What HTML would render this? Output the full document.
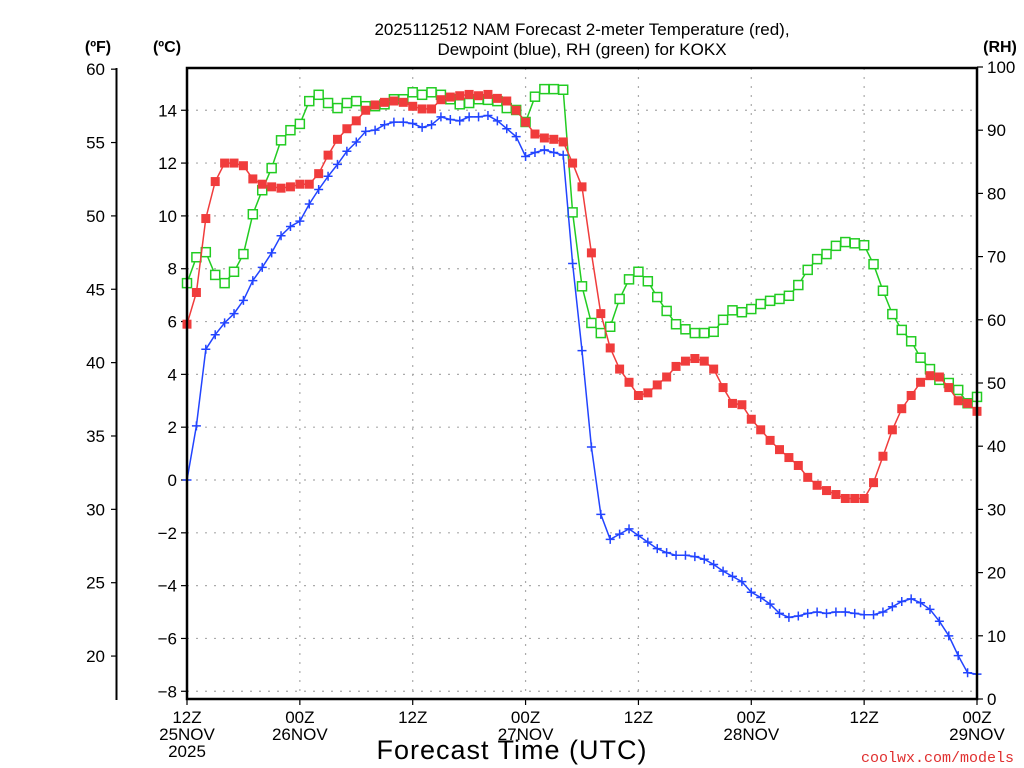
<!DOCTYPE html>
<html><head><meta charset="utf-8"><style>
html,body{margin:0;padding:0;background:#fff;}
svg{display:block;font-family:"Liberation Sans",sans-serif;}
</style></head><body>
<svg id="chart" width="1024" height="768" viewBox="0 0 1024 768" xmlns="http://www.w3.org/2000/svg">
<text x="582" y="35" text-anchor="middle" font-size="17" fill="#000">2025112512 NAM Forecast 2-meter Temperature (red),</text>
<text x="582" y="55" text-anchor="middle" font-size="17" fill="#000">Dewpoint (blue), RH (green) for KOKX</text>
<text x="98" y="52" text-anchor="middle" font-size="16" font-weight="bold">(ºF)</text>
<text x="167" y="52" text-anchor="middle" font-size="16" font-weight="bold">(ºC)</text>
<text x="1000" y="52" text-anchor="middle" font-size="16" font-weight="bold">(RH)</text>
<g id="grid"></g>
<g id="axes"></g>
<g id="series"></g>
<rect x="187" y="68" width="790" height="631" fill="none" stroke="#000" stroke-width="2.5"/>
<line x1="116.5" y1="68" x2="116.5" y2="700" stroke="#000" stroke-width="2"/>
<text x="512" y="759" text-anchor="middle" font-size="27" fill="#000" letter-spacing="1">Forecast Time (UTC)</text>
<text x="1014" y="762" text-anchor="end" font-size="15" fill="#e03030" font-family="Liberation Mono, monospace">coolwx.com/models</text>
</svg>
<script>
const tempC = [5.9,7.1,9.9,11.3,12.0,12.0,11.9,11.4,11.2,11.1,11.05,11.1,11.2,11.2,11.6,12.3,12.9,13.3,13.6,14.0,14.2,14.3,14.35,14.3,14.15,14.05,14.05,14.4,14.5,14.55,14.6,14.55,14.6,14.45,14.35,14.0,13.55,13.1,12.95,12.9,12.8,12.0,11.1,8.6,6.3,5.0,4.2,3.7,3.2,3.3,3.6,3.9,4.3,4.5,4.6,4.5,4.2,3.5,2.9,2.85,2.3,1.9,1.5,1.15,0.85,0.55,0.1,-0.2,-0.4,-0.55,-0.7,-0.7,-0.7,-0.1,0.9,1.9,2.7,3.2,3.7,3.95,3.9,3.5,3.0,2.9,2.6];
const dewC = [0.0,2.05,4.95,5.5,5.95,6.3,6.8,7.55,8.05,8.6,9.25,9.6,9.8,10.45,11.0,11.5,11.95,12.45,12.8,13.2,13.25,13.45,13.55,13.55,13.5,13.35,13.45,13.75,13.65,13.6,13.75,13.75,13.8,13.6,13.3,13.0,12.25,12.4,12.5,12.4,12.3,8.2,4.9,1.25,-1.3,-2.25,-2.05,-1.85,-2.1,-2.35,-2.6,-2.75,-2.85,-2.85,-2.9,-3.0,-3.2,-3.45,-3.65,-3.85,-4.25,-4.45,-4.7,-5.05,-5.2,-5.15,-5.05,-5.0,-5.05,-5.0,-5.0,-5.05,-5.1,-5.1,-5.0,-4.8,-4.6,-4.5,-4.65,-4.9,-5.35,-5.9,-6.65,-7.3,-7.35];
const rhPct = [65.8,69.9,70.7,67.1,65.8,67.6,70.4,76.7,80.5,84.0,88.4,90.0,91.0,94.6,95.6,94.3,93.5,94.3,94.6,93.8,93.8,94.1,94.9,94.9,96.0,95.6,96.0,95.6,94.9,94.1,94.3,94.9,94.8,94.6,93.5,93.2,91.3,95.3,96.5,96.5,96.4,77.0,65.3,59.5,57.9,58.9,63.3,66.4,67.6,66.1,63.6,61.4,59.3,58.5,57.9,57.9,58.1,60.0,61.5,61.2,61.7,62.5,63.0,63.3,63.8,65.5,67.9,69.6,70.4,71.7,72.3,72.1,71.8,68.8,64.6,60.9,58.4,56.6,54.0,52.2,50.5,50.0,48.9,46.8,47.8];
const celsiusTicks = [-8,-6,-4,-2,0,2,4,6,8,10,12,14];
const fahrenheitTicks = [20,25,30,35,40,45,50,55,60];
const rhTicks = [0,10,20,30,40,50,60,70,80,90,100];
const timeTickHours = [0,12,24,36,48,60,72,84];
const timeTickLabels = [["12Z","25NOV","2025"],["00Z","26NOV"],["12Z"],["00Z","27NOV"],["12Z"],["00Z","28NOV"],["12Z"],["00Z","29NOV"]];

const NS="http://www.w3.org/2000/svg";
const X0=187,X1=977,HOURS=84;
const xOf=h=>X0+(X1-X0)*h/HOURS;
const yC=c=>480-c*26.41;
const yF=f=>yC((f-32)*5/9);
const yRH=r=>699-r*6.32;
function mk(tag,attrs,parent){const e=document.createElementNS(NS,tag);for(const k in attrs)e.setAttribute(k,attrs[k]);parent.appendChild(e);return e;}
const grid=document.getElementById('grid'),axes=document.getElementById('axes'),series=document.getElementById('series');

celsiusTicks.forEach(c=>{
  const y=yC(c);
  const g=mk('line',{x1:X0,x2:X1,y1:y,y2:y,stroke:'#aaa','stroke-width':1.2,'stroke-dasharray':'2 7'},grid);
  
  
  const t=mk('line',{x1:X0-6,x2:X0,y1:y,y2:y,stroke:'#000','stroke-width':1.2},axes);
  
  
  const l=mk('text',{x:X0-10,y:y+6,'text-anchor':'end','font-size':17},axes);
  l.textContent=(c<0?'\u2212'+(-c):String(c));
  
  
});
fahrenheitTicks.forEach(f=>{
  const y=yF(f);
  const t=mk('line',{x1:111,x2:116,y1:y,y2:y,stroke:'#000','stroke-width':1.2},axes);
  
  
  const l=mk('text',{x:105,y:y+6,'text-anchor':'end','font-size':17},axes);
  l.textContent=String(f);
  
  
});
rhTicks.forEach(r=>{
  const y=yRH(r);
  const t=mk('line',{x1:X1,x2:X1+6,y1:y,y2:y,stroke:'#000','stroke-width':1.2},axes);
  
  
  const l=mk('text',{x:X1+10,y:y+6,'text-anchor':'start','font-size':17},axes);
  l.textContent=String(r);
  
  
});
timeTickHours.forEach((h,i)=>{
  const x=xOf(h);
  if(h>0&&h<HOURS){
    const g=mk('line',{x1:x,x2:x,y1:68,y2:699,stroke:'#aaa','stroke-width':1.2,'stroke-dasharray':'2 7'},grid);
    
    
  }
  const t=mk('line',{x1:x,x2:x,y1:699,y2:705,stroke:'#000','stroke-width':1.2},axes);
  
  
  timeTickLabels[i].forEach((s,j)=>{
    const l=mk('text',{x:x,y:723+j*17,'text-anchor':'middle','font-size':17},axes);
    l.textContent=s;
    
    
  });
});

function drawSeries(vals,yf,color,marker,name){
  const pts=vals.map((v,i)=>[xOf(i),yf(v)]);
  const line=mk('polyline',{points:pts.map(p=>p[0].toFixed(1)+','+p[1].toFixed(1)).join(' '),fill:'none',stroke:color,'stroke-width':1.5},series);
  
  
  pts.forEach(p=>{
    let m;
    if(marker==='filled'){m=mk('rect',{x:p[0]-4.5,y:p[1]-4.5,width:9,height:9,fill:color},series);}
    else if(marker==='open'){m=mk('rect',{x:p[0]-4.5,y:p[1]-4.5,width:9,height:9,fill:'#fff',stroke:color,'stroke-width':1.5},series);}
    else {m=mk('path',{d:`M${p[0]-4.5},${p[1]}h9M${p[0]},${p[1]-4.5}v9`,stroke:color,'stroke-width':1.5},series);}
    
    
  });
}
drawSeries(rhPct,yRH,'#22cc22','open','rh');
drawSeries(tempC,yC,'#f03c3c','filled','temperature');
drawSeries(dewC,yC,'#2244ff','plus','dewpoint');
</script>
</body></html>
